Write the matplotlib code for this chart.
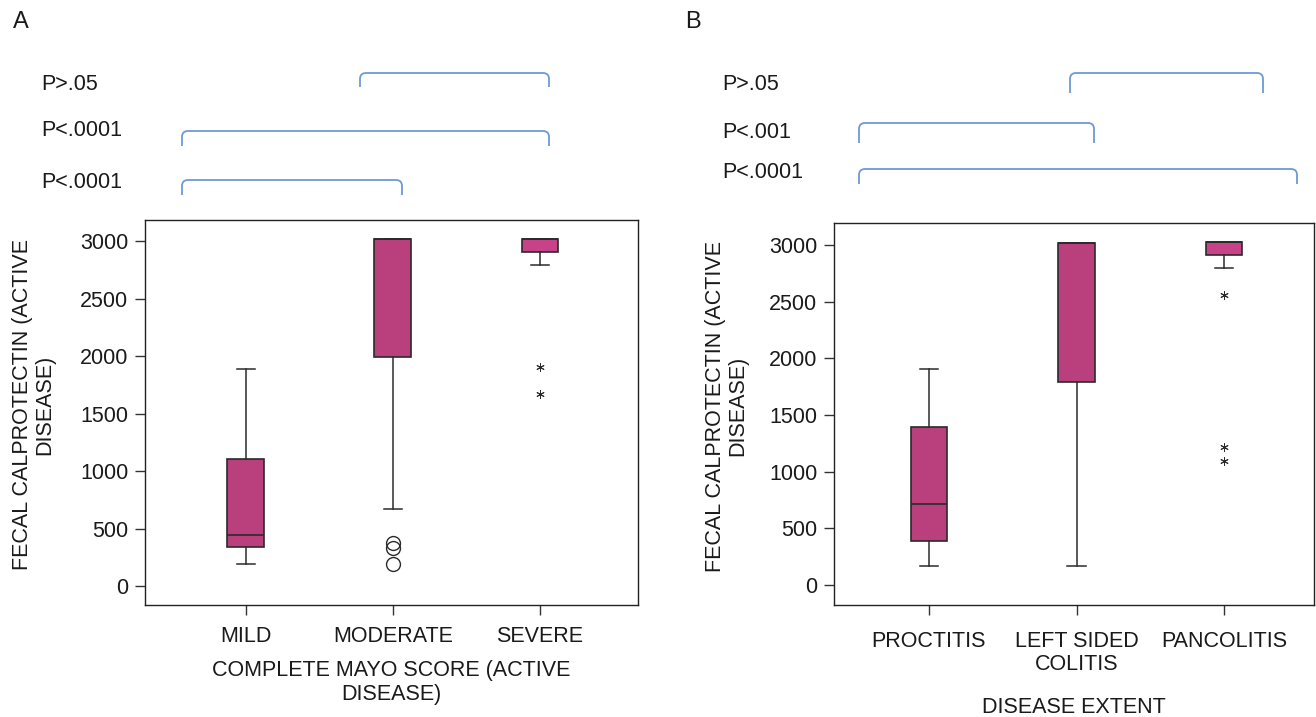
import matplotlib

matplotlib.use("Agg")
import matplotlib.pyplot as plt
from matplotlib.path import Path
from matplotlib.patches import PathPatch
from matplotlib.transforms import Affine2D

# ── data ────────────────────────────────────────────────────────────────────
cats_a = ["MILD", "MODERATE", "SEVERE"]
whislo_a = [189, 670, 2794]
q1_a = [342, 1991, 2907]
med_a = [443, 3015, 3015]
q3_a = [1104, 3015, 3015]
whishi_a = [1890, 3015, 3015]
circles_a = [[], [371, 333, 189], []]
stars_a = [[], [], [1904, 1672]]

cats_b = ["PROCTITIS", "LEFT SIDED\nCOLITIS", "PANCOLITIS"]
whislo_b = [170, 170, 2795]
q1_b = [391, 1794, 2912]
med_b = [712, 3021, 3027]
q3_b = [1397, 3021, 3027]
whishi_b = [1906, 3021, 3027]
circles_b = [[], [], []]
stars_b = [[], [], [2559, 1215, 1091]]

yticks = [0, 500, 1000, 1500, 2000, 2500, 3000]

# ── style ───────────────────────────────────────────────────────────────────
W, H = 1316, 717
BOX = "#B93F7D"
BOX_LIGHT = "#C8428A"
EDGE = "#2b2b2b"
BRACKET = "#6C9AD6"
TEXT = "#1a1a1a"
FS = 15.5

plt.rcParams["font.family"] = ["Liberation Sans", "DejaVu Sans"]
plt.rcParams["font.size"] = FS

fig = plt.figure(figsize=(W / 100, H / 100), dpi=100)
fig.patch.set_facecolor("white")

# pixel coords (y down) -> figure
px = Affine2D().scale(1 / W, -1 / H).translate(0, 1) + fig.transFigure


def bracket(x0, x1, y_top, y_bot, r=6):
    verts = [(x0, y_bot), (x0, y_top + r), (x0, y_top), (x0 + r, y_top),
             (x1 - r, y_top), (x1, y_top), (x1, y_top + r), (x1, y_bot)]
    codes = [Path.MOVETO, Path.LINETO, Path.CURVE3, Path.CURVE3,
             Path.LINETO, Path.CURVE3, Path.CURVE3, Path.LINETO]
    fig.patches.append(PathPatch(Path(verts, codes), transform=px, fill=False,
                                 edgecolor=BRACKET, linewidth=1.3))


def panel(rect, cats, whislo, q1, med, q3, whishi, circles, stars, ylim, xlim,
          xlabel, ylabel_x, xlabel_y, xpad):
    ax = fig.add_axes(rect)
    pos = list(range(1, len(cats) + 1))
    stats = [dict(whislo=a, q1=b, med=c, q3=d, whishi=e)
             for a, b, c, d, e in zip(whislo, q1, med, q3, whishi)]
    res = ax.bxp(stats, positions=pos, widths=0.25, showfliers=False,
                 patch_artist=True,
                 boxprops=dict(edgecolor=EDGE, linewidth=1.2),
                 medianprops=dict(color=EDGE, linewidth=1.2),
                 whiskerprops=dict(color=EDGE, linewidth=1.1),
                 capprops=dict(color=EDGE, linewidth=1.1))
    for box, lo, hi in zip(res["boxes"], q1, q3):
        box.set_facecolor(BOX_LIGHT if hi - lo < 200 else BOX)

    for p, vals in zip(pos, circles):
        if vals:
            ax.plot([p] * len(vals), vals, "o", mfc="none", mec=EDGE,
                    ms=10, mew=1.0, ls="none")
    for p, vals in zip(pos, stars):
        if vals:
            ax.plot([p] * len(vals), vals, marker=(6, 2, 0), color=EDGE,
                    ms=6, mew=0.7, ls="none")

    ax.set_xlim(*xlim)
    ax.set_ylim(*ylim)
    ax.set_xticks(pos)
    ax.set_xticklabels(cats, color=TEXT, linespacing=1.1)
    ax.set_yticks(yticks)
    ax.set_yticklabels([str(t) for t in yticks], color=TEXT)
    ax.tick_params(direction="out", length=7, width=1, color="#333333",
                   labelsize=FS, pad=5)
    ax.tick_params(axis="x", pad=xpad)
    for s in ax.spines.values():
        s.set_color("#222222")
        s.set_linewidth(1.0)

    ax.set_ylabel("FECAL CALPROTECTIN (ACTIVE\nDISEASE)", fontsize=FS,
                  color=TEXT, linespacing=1.05)
    ax.yaxis.set_label_coords(ylabel_x, 0.52)
    ax.set_xlabel(xlabel, fontsize=FS, color=TEXT, linespacing=1.2)
    ax.xaxis.set_label_coords(0.5, xlabel_y)
    return ax


panel([145 / W, 1 - 605 / H, 493 / W, 385 / H], cats_a, whislo_a, q1_a, med_a,
      q3_a, whishi_a, circles_a, stars_a, (-165, 3183), (0.315, 3.667),
      "COMPLETE MAYO SCORE (ACTIVE\nDISEASE)", -0.183, -0.142, 8)
panel([834 / W, 1 - 605 / H, 480 / W, 382 / H], cats_b, whislo_b, q1_b, med_b,
      q3_b, whishi_b, circles_b, stars_b, (-176, 3194), (0.356, 3.61),
      "DISEASE EXTENT", -0.179, -0.24, 12)

# ── panel letters, p-values and brackets ────────────────────────────────────
fig.text(13 / W, 1 - 22 / H, "A", fontsize=17, va="center", color=TEXT)
fig.text(685 / W, 1 - 22 / H, "B", fontsize=17, va="center", color=TEXT)

for label, y in [("P>.05", 85), ("P<.0001", 131), ("P<.0001", 182)]:
    fig.text(41 / W, 1 - y / H, label, fontsize=FS, va="center", color=TEXT)
bracket(360, 549, 73, 87)
bracket(182, 549, 131, 146)
bracket(182, 402, 180, 195)

for label, y in [("P>.05", 85), ("P<.001", 133), ("P<.0001", 172)]:
    fig.text(722 / W, 1 - y / H, label, fontsize=FS, va="center", color=TEXT)
bracket(1070, 1263, 73, 93)
bracket(859, 1094, 123, 143)
bracket(859, 1297, 169, 184)

fig.savefig("out.png", dpi=100, facecolor=fig.get_facecolor())
